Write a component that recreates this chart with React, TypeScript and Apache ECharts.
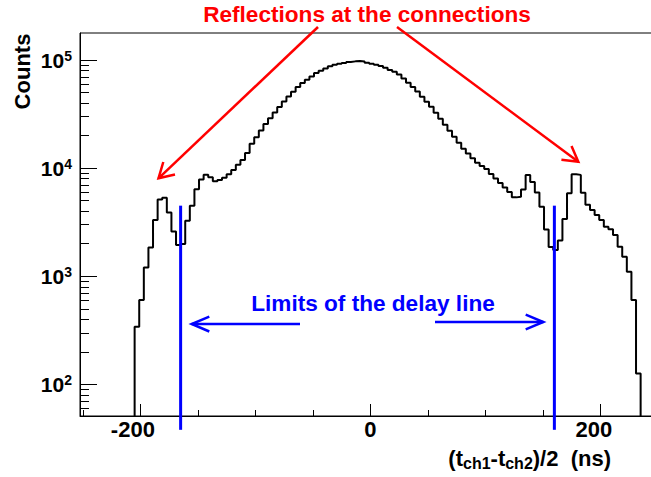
import React, { useEffect, useRef } from "react";
import * as echarts from "echarts";

// Histogram definition (ns): first bin lower edge and bin width
const HIST_LOW = -205;
const BIN_WIDTH = 4;

// Counts per bin (110 bins, -205 .. 235 ns)
const counts = [
  341, 603, 1208, 1849, 3311, 5140, 5321, 3882, 2600, 1945,
  1986, 3258, 4487, 6368, 7870, 8690, 8222, 7551, 7762, 8147,
  8770, 9594, 10752, 11885, 13800, 16820, 19360, 22280, 25640, 29010,
  32760, 36900, 41400, 45950, 50900, 56500, 61400, 65900, 70650, 75800,
  79600, 83400, 87600, 90650, 92430, 94200, 96030, 97270, 97900, 96850,
  94400, 92620, 90650, 88200, 84700, 81150, 77800, 73600, 67400, 61660,
  56500, 51150, 45840, 41210, 36980, 32580, 28640, 25220, 22240, 19580,
  17220, 15160, 13650, 12380, 11220, 10470, 9820, 8820, 8010, 7280,
  6620, 6010, 5370, 5440, 6340, 8630, 7430, 5950, 4395, 2704,
  1862, 1746, 2138, 3380, 5850, 8790, 8670, 5930, 4585, 4095,
  3680, 3310, 2870, 2716, 2405, 1875, 1515, 1100, 603, 126,
];

const X_MIN = -252.5;
const X_MAX = 252.5;
const Y_MIN = 51;
const Y_MAX = 178000;

const xMajorTicks = [-200, 0, 200];
const xMinorTicks = [-250, -150, -100, -50, 50, 100, 150, 250];
const yMajorTicks = [100, 1000, 10000, 100000];
const yMinorTicks = [
  60, 70, 80, 90,
  200, 300, 400, 500, 600, 700, 800, 900,
  2000, 3000, 4000, 5000, 6000, 7000, 8000, 9000,
  20000, 30000, 40000, 50000, 60000, 70000, 80000, 90000,
];

// Delay-line limits (ns) and the vertical extent of the marker lines (counts)
const delayLimits = [-165, 160];
const limitTop = 4500;
const limitBottom = 38;

const FONT = "'Liberation Sans', Arial, Helvetica, sans-serif";

export default function App() {
  const ref = useRef<HTMLDivElement>(null);

  useEffect(() => {
    if (!ref.current) return;
    const chart = echarts.init(ref.current, null, { renderer: "svg" });

    const histPoints: number[][] = [[HIST_LOW, 1]];
    counts.forEach((c, i) => {
      const lo = HIST_LOW + i * BIN_WIDTH;
      histPoints.push([lo, c], [lo + BIN_WIDTH, c]);
    });
    histPoints.push([HIST_LOW + counts.length * BIN_WIDTH, 1]);

    const red = "#ff0000";
    const blue = "#0000ff";

    const arrow = (
      tail: number[],
      tip: number[],
      w1: number[],
      w2: number[],
      color: string,
      width: number
    ) => [
      {
        type: "line",
        shape: { x1: tail[0], y1: tail[1], x2: tip[0], y2: tip[1] },
        style: { stroke: color, lineWidth: width },
        z: 100,
      },
      {
        type: "polyline",
        shape: { points: [w1, tip, w2] },
        style: { stroke: color, lineWidth: width, fill: null },
        z: 100,
      },
    ];

    const option: any = {
      animation: false,
      backgroundColor: "#ffffff",
      grid: {
        left: 80,
        top: 33,
        width: 580.75,
        height: 383,
        containLabel: false,
        outerBoundsMode: "none",
        show: true,
        borderColor: "#000",
        borderWidth: 1,
        backgroundColor: "transparent",
      },
      xAxis: [
        {
          type: "value",
          min: X_MIN,
          max: X_MAX,
          position: "bottom",
          axisLine: { show: true, onZero: false, lineStyle: { color: "#000", width: 1 } },
          axisTick: {
            show: true,
            inside: true,
            length: 12,
            customValues: xMajorTicks,
            lineStyle: { color: "#000", width: 1 },
          },
          axisLabel: {
            show: true,
            customValues: xMajorTicks,
            margin: 2,
            formatter: (v: number) =>
              v === 0 ? "{z|0}" : v < 0 ? `{n|${v}}` : `{p|${v}}`,
            rich: {
              z: { fontFamily: FONT, fontWeight: "bold", fontSize: 22, color: "#000" },
              n: {
                fontFamily: FONT, fontWeight: "bold", fontSize: 22, color: "#000",
                padding: [0, 15, 0, 0],
              },
              p: {
                fontFamily: FONT, fontWeight: "bold", fontSize: 22, color: "#000",
                padding: [0, 13, 0, 0],
              },
            },
          },
          splitLine: { show: false },
        },
        {
          type: "value",
          min: X_MIN,
          max: X_MAX,
          position: "bottom",
          offset: 0,
          axisLine: { show: false, onZero: false },
          axisTick: {
            show: true,
            inside: true,
            length: 6,
            customValues: xMinorTicks,
            lineStyle: { color: "#000", width: 1 },
          },
          axisLabel: { show: false },
          splitLine: { show: false },
        },
      ],
      yAxis: [
        {
          type: "log",
          logBase: 10,
          min: Y_MIN,
          max: Y_MAX,
          position: "left",
          axisLine: { show: true, onZero: false, lineStyle: { color: "#000", width: 1 } },
          axisTick: {
            show: true,
            inside: true,
            length: 17,
            customValues: yMajorTicks,
            lineStyle: { color: "#000", width: 1 },
          },
          axisLabel: {
            show: true,
            customValues: yMajorTicks,
            margin: 8,
            formatter: (v: number) => `{b|10}{s|${Math.round(Math.log10(v))}}`,
            rich: {
              b: { fontFamily: FONT, fontWeight: "bold", fontSize: 21, color: "#000" },
              s: {
                fontFamily: FONT, fontWeight: "bold", fontSize: 14, color: "#000",
                padding: [0, 0, 8, 0],
              },
            },
          },
          splitLine: { show: false },
          minorTick: { show: false },
        },
        {
          type: "log",
          logBase: 10,
          min: Y_MIN,
          max: Y_MAX,
          position: "left",
          offset: 0,
          axisLine: { show: false, onZero: false },
          axisTick: {
            show: true,
            inside: true,
            length: 9,
            customValues: yMinorTicks,
            lineStyle: { color: "#000", width: 1 },
          },
          axisLabel: { show: false },
          splitLine: { show: false },
        },
      ],
      series: [
        {
          name: "counts",
          type: "line",
          xAxisIndex: 0,
          yAxisIndex: 0,
          data: histPoints,
          symbol: "none",
          clip: true,
          lineStyle: { color: "#000", width: 2 },
          z: 3,
        },
        ...delayLimits.map((x, i) => ({
          name: "limit" + i,
          type: "line",
          xAxisIndex: 0,
          yAxisIndex: 0,
          data: [
            [x, limitTop],
            [x, limitBottom],
          ],
          symbol: "none",
          clip: false,
          lineStyle: { color: blue, width: 3 },
          z: 4,
        })),
      ],
      graphic: [
        {
          type: "text",
          x: 367,
          y: 14.5,
          z: 100,
          style: {
            text: "Reflections at the connections",
            fill: red,
            font: `bold 22.6px ${FONT}`,
            textAlign: "center",
            textVerticalAlign: "middle",
          },
        },
        {
          type: "text",
          x: 373,
          y: 303,
          z: 100,
          style: {
            text: "Limits of the delay line",
            fill: blue,
            font: `bold 22.6px ${FONT}`,
            textAlign: "center",
            textVerticalAlign: "middle",
          },
        },
        {
          type: "text",
          x: 22,
          y: 71.5,
          rotation: Math.PI / 2,
          z: 100,
          style: {
            text: "Counts",
            fill: "#000",
            font: `bold 22px ${FONT}`,
            textAlign: "center",
            textVerticalAlign: "middle",
          },
        },
        {
          type: "text",
          x: 611,
          y: 458,
          z: 100,
          style: {
            text: "{a|(t}{s|ch1}{a|-t}{s|ch2}{a|)/2  (ns)}",
            textAlign: "right",
            textVerticalAlign: "middle",
            rich: {
              a: { fontFamily: FONT, fontWeight: "bold", fontSize: 22, fill: "#000", color: "#000" },
              s: {
                fontFamily: FONT, fontWeight: "bold", fontSize: 16, fill: "#000", color: "#000",
                padding: [11, 0, 0, 0],
              },
            },
          },
        },
        ...arrow([318, 27], [158.5, 178.3], [175, 174.5], [163.3, 162], red, 2.5),
        ...arrow([397, 27], [578.3, 161.7], [561.4, 159.8], [571.5, 146], red, 2.5),
        ...arrow([300, 324], [191.7, 324], [209.3, 316.7], [209.3, 331.5], blue, 2.5),
        ...arrow([435, 322], [543.3, 322], [525.7, 314.7], [525.7, 329.3], blue, 2.5),
      ],
    };

    chart.setOption(option);
    return () => chart.dispose();
  }, []);

  return (
    <div
      ref={ref}
      style={{ position: "fixed", left: 0, top: 0, width: 651, height: 477, background: "#fff" }}
    />
  );
}
